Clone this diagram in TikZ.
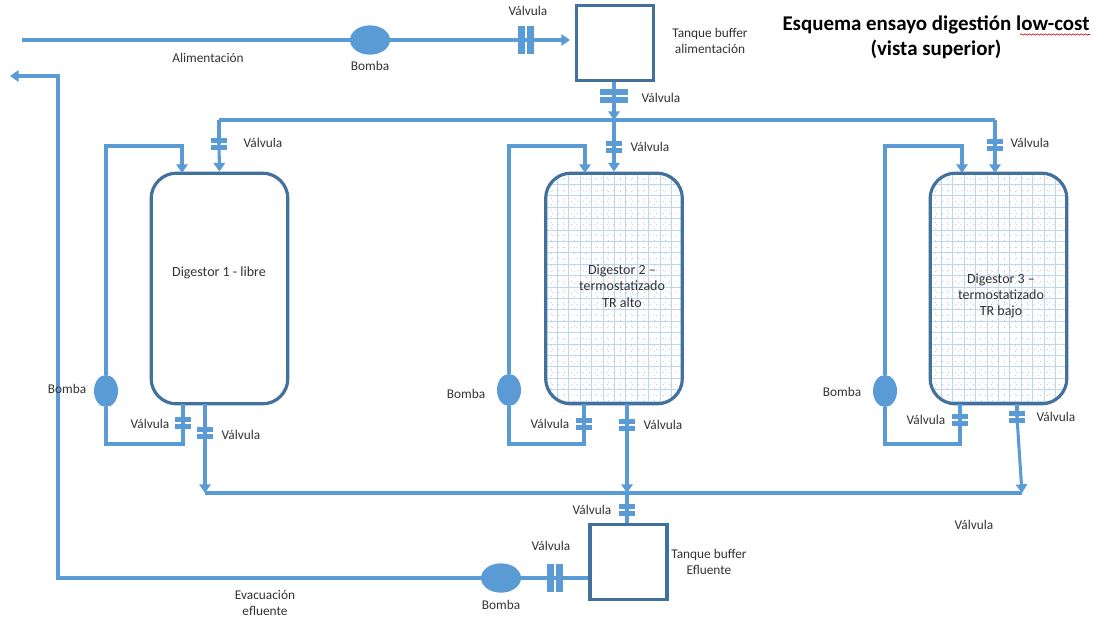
\documentclass[tikz,border=0pt]{standalone}
\usepackage{fontspec}
\setmainfont{Carlito}
\usetikzlibrary{arrows.meta,shapes.geometric,decorations.pathmorphing}
\definecolor{pipe}{HTML}{5B9BD5}
\definecolor{edgeblue}{HTML}{41719C}
\definecolor{gridblue}{HTML}{BBD6EE}
\definecolor{griddark}{HTML}{C4CFDA}
\definecolor{txt}{HTML}{333333}
\tikzset{
  pipeline/.style={draw=pipe,line width=2.3pt},
  flow/.style={pipeline,-{Triangle[width=8.5pt,length=6.5pt]}},
  tank/.style={draw=edgeblue,line width=2.6pt,fill=white,rectangle,inner sep=0pt,minimum width=58pt,minimum height=56pt},
  digestor/.style={draw=edgeblue,line width=2.4pt,rectangle,rounded corners=19pt,inner sep=0pt,minimum width=102.5pt,minimum height=173pt},
  pump/.style={ellipse,fill=pipe,draw=none,inner sep=0pt},
  pumpv/.style={pump,minimum width=18pt,minimum height=24pt},
  pumph/.style={pump,minimum width=30pt,minimum height=22pt},
  hv/.style={rectangle,inner sep=0pt,fill=pipe,minimum width=#1,minimum height=8.5pt,
    path picture={\draw[white,line width=.9pt] (path picture bounding box.west) -- (path picture bounding box.east);}},
  hv/.default=12.5pt,
  hvbig/.style={hv=21pt,minimum height=11pt},
  vv/.style={rectangle,inner sep=0pt,fill=pipe,minimum width=12pt,minimum height=21pt,
    path picture={\draw[white,line width=1.2pt] (path picture bounding box.north) -- (path picture bounding box.south);}},
  lab/.style={inner sep=0pt,align=center,text=txt,font=\fontsize{10}{12.5}\selectfont},
  dlab/.style={inner sep=0pt,align=center,text=txt,font=\fontsize{10.5}{12.2}\selectfont},
  ttl/.style={inner sep=0pt,align=center,text=black,font=\bfseries\fontsize{15.7}{19}\selectfont},
  gridmain/.style={gridblue,line width=.6pt},
  griddot/.style={griddark,line width=.5pt,dash pattern=on .6pt off 4pt}
}
\newcommand{\gridfill}[1]{%
  \begin{scope}
    \clip[rounded corners=19pt] (#1,173) rectangle (#1+137,404);
    \foreach \i in {1,...,11} {
      \draw[griddot] (#1+\i*11.4-5.7,173) -- (#1+\i*11.4-5.7,404);
      \draw[gridmain] (#1+\i*11.4,173) -- (#1+\i*11.4,404);
    }
    \foreach \j in {1,...,20} {
      \draw[griddot] (#1,173+\j*11.4-5.7) -- (#1+137,173+\j*11.4-5.7);
      \draw[gridmain] (#1,173+\j*11.4) -- (#1+137,173+\j*11.4);
    }
  \end{scope}}
\begin{document}
\begin{tikzpicture}[x=0.75pt,y=-0.75pt]
\useasboundingbox (0,0) rectangle (1093,619);
\fill[white] (0,0) rectangle (1093,619);
\gridfill{546}
\gridfill{930}
% digestors
\node[digestor] (d1) at (219.5,288.5) {};
\node[digestor] (d2) at (614,288.5) {};
\node[digestor] (d3) at (998.5,288.5) {};
% tanks
\node[tank] (tf) at (615,43) {};
\node[tank] (te) at (628.5,562) {};
% pumps
\node[pumph] (pf) at (370,40) {};
\node[pumph] (pe) at (501,578) {};
\node[pumpv] (p1) at (106,391) {};
\node[pumpv] (p2) at (509,390) {};
\node[pumpv] (p3) at (885,391) {};
% valves
\node[vv] (vf) at (526,40) {};
\node[vv] (ve) at (555,578) {};
\node[hvbig] (vt) at (614,96) {};
\node[hv] (vh1) at (219,144) {};
\node[hv] (vh2) at (614,147) {};
\node[hv] (vh3) at (995,145) {};
\node[hv] (vr1) at (183,423) {};
\node[hv] (vo1) at (205,433) {};
\node[hv] (vr2) at (584,424) {};
\node[hv] (vo2) at (627,425) {};
\node[hv] (vr3) at (960,420) {};
\node[hv] (vo3) at (1017,417) {};
\node[hv] (vte) at (627,510) {};
% coordinates
\coordinate (fs) at (22,40);
\coordinate (hl) at (219,120);
\coordinate (hr) at (995,120);
\coordinate (hm) at (614,120);
\coordinate (cl) at (205,493);
\coordinate (cr) at (1022,493);
\coordinate (cm) at (627,493);
\coordinate (el) at (58,578);
\coordinate (eu) at (58,76);
\coordinate (ee) at (10,76);
% feed line
\draw[pipeline] (fs) -- (pf);
\draw[pipeline] (pf) -- (vf.center);
\draw[flow] (vf.center) -- (570,40);
\draw[pipeline] (vt.center |- tf.south) -- (vt.center);
\draw[flow] (vt.center) -- (hm);
\draw[pipeline] (hl) -- (hr);
\draw[pipeline] (hl) -- (vh1.center);
\draw[flow] (vh1.center) -- (d1.north);
\draw[pipeline] (hm) -- (vh2.center);
\draw[flow] (vh2.center) -- (d2.north);
\draw[pipeline] (hr) -- (vh3.center);
\draw[flow] (vh3.center) -- (995,173);
% recirculation 1
\draw[flow] (p1) -- (106,146) -- (182,146) -- (182,173);
\draw[pipeline] (p1) -- (106,444) -- (183,444) -- (vr1.center);
\draw[pipeline] (vr1.center) -- (183,404);
% recirculation 2
\draw[flow] (p2) -- (509,146) -- (585,146) -- (585,173);
\draw[pipeline] (p2) -- (509,444) -- (584,444) -- (vr2.center);
\draw[pipeline] (vr2.center) -- (584,404);
% recirculation 3
\draw[flow] (p3) -- (885,146) -- (962,146) -- (962,173);
\draw[pipeline] (p3) -- (885,444) -- (960,444) -- (vr3.center);
\draw[pipeline] (vr3.center) -- (960,404);
% outlets
\draw[pipeline] (205,404) -- (vo1.center);
\draw[flow] (vo1.center) -- (cl);
\draw[pipeline] (627,404) -- (vo2.center);
\draw[flow] (vo2.center) -- (cm);
\draw[pipeline] (1017,404) -- (vo3.center);
\draw[flow] (vo3.center) -- (cr);
\draw[pipeline] (cl) -- (cr);
\draw[pipeline] (cm) -- (vte.center);
\draw[pipeline] (vte.center) -- (vte.center |- te.north);
% effluent
\draw[pipeline] (te.west |- ve.center) -- (ve.center);
\draw[pipeline] (ve.center) -- (pe);
\draw[flow] (pe) -- (el) -- (eu) -- (ee);
% labels
\node[dlab] (t1) at (219,273) {Digestor 1 - libre};
\node[dlab] (t2) at (622,286) {Digestor 2 –\\termostatizado\\TR alto};
\node[dlab] (t3) at (1001,296) {Digestor 3 –\\termostatizado\\TR bajo};
\node[lab] (l1) at (208,58) {Alimentación};
\node[lab] (l2) at (370,66) {Bomba};
\node[lab] (l3) at (528,11) {Válvula};
\node[lab] (l4) at (710,41) {Tanque buffer\\alimentación};
\node[lab] (l5) at (661,98) {Válvula};
\node[lab] (l6) at (263,143) {Válvula};
\node[lab] (l7) at (650,147) {Válvula};
\node[lab] (l8) at (1030,143) {Válvula};
\node[lab] (l9) at (67,389) {Bomba};
\node[lab] (l10) at (466,394) {Bomba};
\node[lab] (l11) at (842,392) {Bomba};
\node[lab] (l12) at (150,424) {Válvula};
\node[lab] (l13) at (241,435) {Válvula};
\node[lab] (l14) at (550,424) {Válvula};
\node[lab] (l15) at (663,425) {Válvula};
\node[lab] (l16) at (926,420) {Válvula};
\node[lab] (l17) at (1056,417) {Válvula};
\node[lab] (l18) at (974,525) {Válvula};
\node[lab] (l19) at (592,510) {Válvula};
\node[lab] (l20) at (551,546) {Válvula};
\node[lab] (l21) at (709,562) {Tanque buffer\\Efluente};
\node[lab] (l22) at (501,605) {Bomba};
\node[lab] (l23) at (265,603) {Evacuación\\efluente};
\node[ttl] (title) at (936,37) {Esquema ensayo digestión low-cost\\(vista superior)};
\draw[red!80!black,line width=.5pt,decorate,decoration={snake,amplitude=.5pt,segment length=3pt}] (1020,34.5) -- (1090,34.5);
\end{tikzpicture}
\end{document}
